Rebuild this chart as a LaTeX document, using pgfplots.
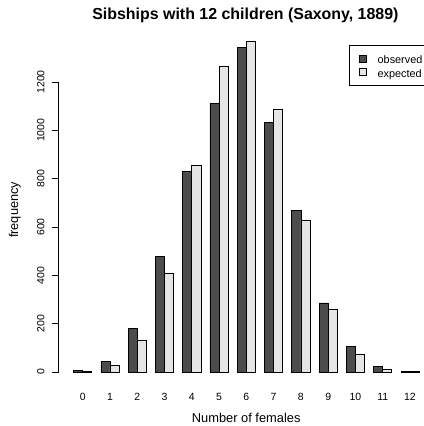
\documentclass[border=0pt]{standalone}
\usepackage{fontspec}
\setmainfont{Liberation Sans}
\usepackage{pgfplots}
\pgfplotsset{compat=1.18}

\definecolor{obsgray}{gray}{0.30}
\definecolor{expgray}{gray}{0.90}

% small filled square as the legend key
\pgfplotsset{sqlegend/.style={legend image code/.code={\draw[##1] (0bp,-3.5bp) rectangle (7bp,3.5bp);}}}

\begin{document}
\begin{tikzpicture}
\begin{axis}[
  at={(58.5bp,40.8bp)}, anchor=south west,
  scale only axis, width=365.4bp, height=356.8bp,
  xmin=-0.887, xmax=12.51, ymin=-54.7, ymax=1421.7,
  ybar, bar width=0.3333,
  axis x line*=bottom,
  axis y line*=left,
  x axis line style={draw=none},
  y axis line style={draw=none},
  xtick={0,...,12},
  major x tick style={draw=none},
  ytick={0,200,...,1200},
  tick align=outside, major tick length=7bp,
  major y tick style={black, line width=0.7bp},
  tick label style={font=\fontsize{10.5}{12}\selectfont},
  yticklabel style={xshift=-7.2bp, rotate=90, anchor=base},
  xticklabel style={anchor=center, yshift=-4.5bp},
  /pgf/number format/assume math mode=true,
  /pgf/number format/1000 sep={},
  clip=false,
  legend style={at={(0.794,0.9526)}, anchor=north west, draw=black, line width=0.7bp,
    font=\fontsize{10.9}{13}\selectfont, inner xsep=10bp, inner ysep=7bp, row sep=1bp,
    column sep=11bp,
    nodes={inner ysep=1bp, inner xsep=0bp, text height=10bp, text depth=0.4bp},
    cells={anchor=west}},
]
\addplot[fill=obsgray, draw=black, line width=0.7bp, bar shift=-0.16667, sqlegend]
  coordinates {(0,7) (1,45) (2,181) (3,478) (4,829) (5,1112) (6,1343)
               (7,1033) (8,670) (9,286) (10,104) (11,24) (12,3)};
\addlegendentry{observed}
\addplot[fill=expgray, draw=black, line width=0.7bp, bar shift=0.16667, sqlegend]
  coordinates {(0,2.35) (1,26.08) (2,132.84) (3,410.01) (4,854.25) (5,1265.63) (6,1367.28)
               (7,1085.21) (8,628.06) (9,258.48) (10,71.80) (11,12.08) (12,0.93)};
\addlegendentry{expected}
% y axis line spans only the labelled ticks
\draw[black, line width=0.7bp] (axis cs:-0.887,0) -- (axis cs:-0.887,1200);
\end{axis}
\node[font=\bfseries\fontsize{16}{19}\selectfont, anchor=base] at (245.4bp,406.2bp) {Sibships with 12 children (Saxony, 1889)};
\node[font=\fontsize{12.9}{15}\selectfont, anchor=base] at (246.2bp,3.8bp) {Number of females};
\node[font=\fontsize{12.8}{15}\selectfont, rotate=90, anchor=base] at (18bp,216.1bp) {frequency};
\pgfresetboundingbox
\useasboundingbox (0bp,0bp) rectangle (424bp,426bp);
\end{tikzpicture}
\end{document}
